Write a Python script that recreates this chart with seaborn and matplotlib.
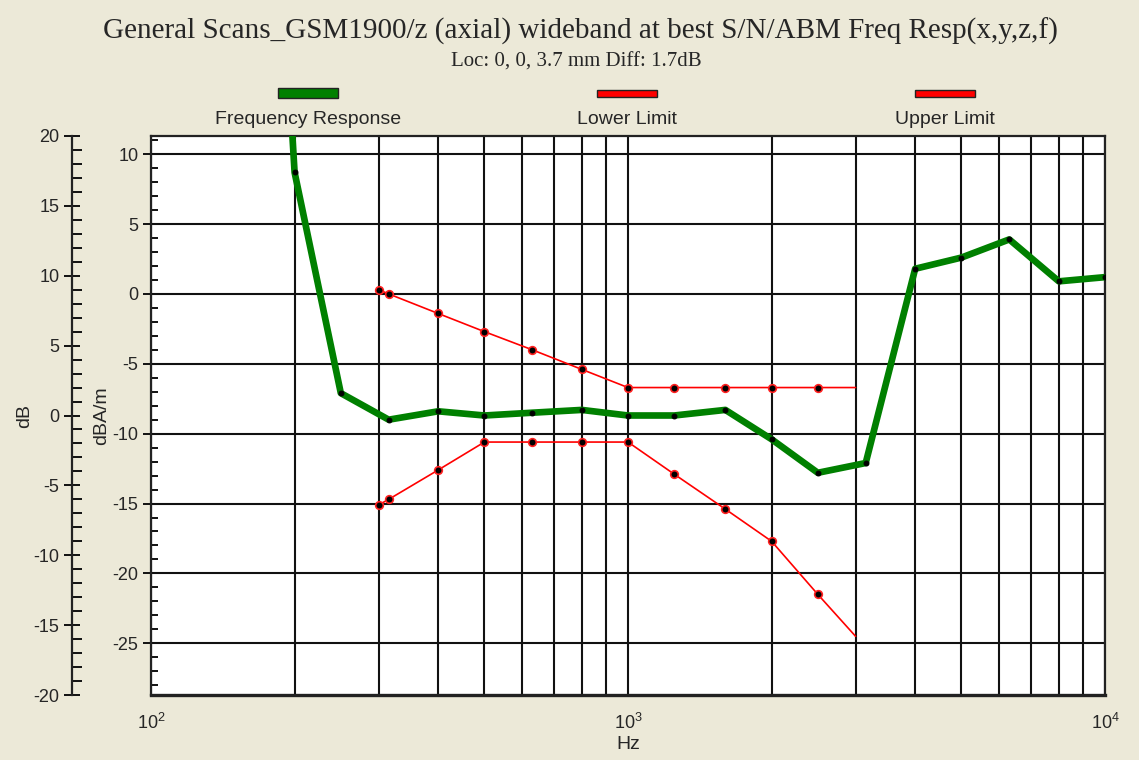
import matplotlib
matplotlib.use("Agg")
import matplotlib.pyplot as plt
import seaborn as sns
import numpy as np
from matplotlib.patches import Rectangle
from matplotlib.ticker import LogLocator, MultipleLocator, NullFormatter

# ---------------- data (dB, relative to 1 kHz) ----------------
freq_resp_hz = [190, 200, 250, 315, 400, 500, 630, 800, 1000, 1250, 1600, 2000,
                2500, 3150, 4000, 5000, 6300, 8000, 10000]
freq_resp_db = [30.0, 17.4, 1.6, -0.3, 0.3, 0.0, 0.2, 0.4, 0.0, 0.0, 0.4, -1.7,
                -4.1, -3.4, 10.5, 11.3, 12.6, 9.6, 9.9]

limit_hz = [300, 315, 400, 500, 630, 800, 1000, 1250, 1600, 2000, 2500, 3000]
upper_db = [9.0, 8.7, 7.3, 6.0, 4.7, 3.3, 2.0, 2.0, 2.0, 2.0, 2.0, 2.0]
lower_db = [-6.4, -6.0, -3.9, -1.9, -1.9, -1.9, -1.9, -4.2, -6.7, -9.0, -12.8, -15.8]

title = "General Scans_GSM1900/z (axial) wideband at best S/N/ABM Freq Resp(x,y,z,f)"
subtitle = "Loc: 0, 0, 3.7 mm Diff: 1.7dB"
legend_labels = ["Frequency Response", "Lower Limit", "Upper Limit"]
dba_offset = 8.7  # dBA/m axis = dB axis - offset

# ---------------- style ----------------
sns.set_style("white")
plt.rcParams["font.family"] = ["Liberation Sans", "DejaVu Sans"]
plt.rcParams["axes.unicode_minus"] = False

BG = "#ECE9D8"
W, H = 1139, 760
fig = plt.figure(figsize=(W / 100, H / 100), dpi=100, facecolor=BG)

def fx(px):
    return px / W

def fy(py):
    return 1 - py / H

left, right, top, bottom = 151, 1105, 136, 695
ax = fig.add_axes([fx(left), fy(bottom), fx(right - left), (bottom - top) / H])
ax.set_facecolor("white")
ax.set_xscale("log")
ax.set_xlim(100, 10000)
ax.set_ylim(-20 - dba_offset, 20 - dba_offset)

# grid
ax.xaxis.set_major_locator(LogLocator(base=10))
ax.xaxis.set_minor_locator(LogLocator(base=10, subs=np.arange(2, 10)))
ax.xaxis.set_minor_formatter(NullFormatter())
ax.yaxis.set_major_locator(MultipleLocator(5))
ax.yaxis.set_minor_locator(MultipleLocator(1))
ax.grid(True, which="both", axis="x", color="#111111", lw=1.5)
ax.grid(True, which="major", axis="y", color="#111111", lw=1.5)
ax.set_axisbelow(True)
for s in ax.spines.values():
    s.set_color("#222222")
    s.set_linewidth(1.6)
ax.spines["bottom"].set_linewidth(2.4)

ax.tick_params(axis="x", which="major", direction="out", length=9, width=1.4,
               color="#111111", labelsize=13, pad=4)
ax.tick_params(axis="x", which="minor", length=0)
ax.tick_params(axis="y", which="major", direction="out", length=6, width=1.4,
               color="#111111", labelsize=13, pad=3)
ax.tick_params(axis="y", which="minor", direction="in", length=5, width=1.4,
               color="#111111")
ax.set_ylabel("dBA/m", fontsize=14, labelpad=2)
ax.set_xlabel("Hz", fontsize=14, labelpad=2)

# outer dB axis (data axis)
ax2 = ax.twinx()
ax2.set_ylim(-20, 20)
ax2.yaxis.tick_left()
ax2.yaxis.set_label_position("left")
ax2.spines["left"].set_position(("axes", (72 - left) / (right - left)))
ax2.spines["left"].set_visible(True)
ax2.spines["left"].set_color("#222222")
ax2.spines["left"].set_linewidth(1.6)
for k in ["right", "top", "bottom"]:
    ax2.spines[k].set_visible(False)
ax2.yaxis.set_major_locator(MultipleLocator(5))
ax2.yaxis.set_minor_locator(MultipleLocator(1))
ax2.tick_params(axis="y", which="major", direction="inout", length=12, width=1.4,
                color="#111111", labelsize=13, pad=3)
ax2.tick_params(axis="y", which="minor", direction="in", length=7, width=1.4,
                color="#111111")
ax2.set_ylabel("dB", fontsize=14, labelpad=0)

# data
sns.lineplot(x=limit_hz, y=lower_db, ax=ax2, color="#FF0000", lw=1.2,
             marker="o", markersize=5.5, markerfacecolor="black",
             markeredgecolor="#FF2020", markeredgewidth=1.2,
             markevery=list(range(len(limit_hz) - 1)), sort=False, zorder=3)
sns.lineplot(x=limit_hz, y=upper_db, ax=ax2, color="#FF0000", lw=1.2,
             marker="o", markersize=5.5, markerfacecolor="black",
             markeredgecolor="#FF2020", markeredgewidth=1.2,
             markevery=list(range(len(limit_hz) - 1)), sort=False, zorder=3)
sns.lineplot(x=freq_resp_hz, y=freq_resp_db, ax=ax2, color="#008000", lw=4.8,
             marker="o", markersize=3.5, markerfacecolor="black",
             markeredgecolor="black", sort=False, zorder=4)
ax2.set_xlim(100, 10000)

# titles
fig.text(fx(580), fy(31), title, ha="center", va="center",
         family=["Liberation Serif", "DejaVu Serif"], fontsize=21)
fig.text(fx(576), fy(62), subtitle, ha="center", va="center",
         family=["Liberation Serif", "DejaVu Serif"], fontsize=15)

# legend (manual, handle above label)
legend_colors = ["#008000", "#FF0000", "#FF0000"]
centers = [308, 627, 945]
heights = [10, 7, 7]
for lab, c, cx, h in zip(legend_labels, legend_colors, centers, heights):
    fig.add_artist(Rectangle((fx(cx - 30), fy(93 + h / 2)), fx(60), h / H,
                             transform=fig.transFigure, facecolor=c,
                             edgecolor="#222222", lw=1.0))
    fig.text(fx(cx), fy(120), lab, ha="center", va="center", fontsize=14)

fig.savefig("out.png", dpi=100, facecolor=BG)
